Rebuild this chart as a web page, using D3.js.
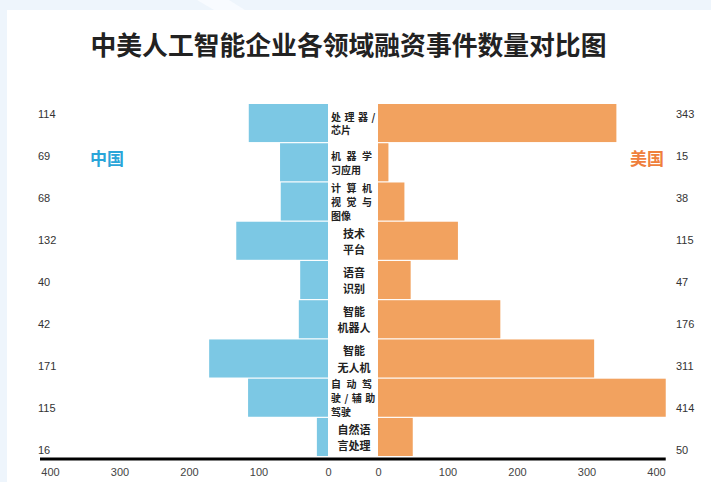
<!DOCTYPE html>
<html><head><meta charset="utf-8">
<script src="https://cdn.jsdelivr.net/npm/d3@7"></script>
<style>html,body{margin:0;padding:0;background:#eef5fc;}svg{display:block;}</style>
</head><body>
<svg id="chart" width="711" height="482"></svg>
<script>
const title = "中美人工智能企业各领域融资事件数量对比图";
const categories = ["处理器/芯片","机器学习应用","计算机视觉与图像","技术平台","语音识别","智能机器人","智能无人机","自动驾驶/辅助驾驶","自然语言处理"];
const categoryLines = [["处理器/","芯片"],["机器学","习应用"],["计算机","视觉与","图像"],["技术","平台"],["语音","识别"],["智能","机器人"],["智能","无人机"],["自动驾","驶/辅助","驾驶"],["自然语","言处理"]];
const chinaValues = [114,69,68,132,40,42,171,115,16];
const usValues = [343,15,38,115,47,176,311,414,50];
const seriesNames = ["中国","美国"];
const tickValues = [0,100,200,300,400];

const justified = new Set(["处理器/芯片","机器学习应用","计算机视觉与图像","自动驾驶/辅助驾驶"]);
const blue = "#7cc8e4", orange = "#f2a25f";
const font = "'Noto Sans CJK SC','Noto Sans',sans-serif";
const numFont = "'Liberation Sans',Arial,sans-serif";

const svg = d3.select("#chart");
svg.append("rect").attr("width",711).attr("height",482).attr("fill","#eef5fc");
svg.append("polygon").attr("points","197,0 229,0 245,10 214,10").attr("fill","#f8fbff");
svg.append("rect").attr("x",7).attr("y",10).attr("width",704).attr("height",472).attr("fill","#ffffff");

svg.append("text").attr("x",348.5).attr("y",43).attr("text-anchor","middle").attr("dominant-baseline","central")
  .attr("font-family",font).attr("font-size",25.8).attr("font-weight",700).attr("fill","#222").text(title);

const xL = d3.scaleLinear().domain([0,400]).range([328,50]);
const xR = d3.scaleLinear().domain([0,400]).range([378,656]);
const y = d3.scaleBand().domain(categories).range([104,456]).paddingInner(0.03);
const yLab = d3.scaleBand().domain(categories).range([93,471]);

const rows = categories.map((c,i)=>({c, lines:categoryLines[i], cn:chinaValues[i], us:usValues[i]}));

svg.append("g").selectAll("rect").data(rows).join("rect")
  .attr("x",d=>xL(d.cn)).attr("y",d=>y(d.c)).attr("width",d=>xL(0)-xL(d.cn)).attr("height",y.bandwidth())
  .attr("fill",blue);
svg.append("g").selectAll("rect").data(rows).join("rect")
  .attr("x",xR(0)).attr("y",d=>y(d.c)).attr("width",d=>xR(d.us)-xR(0)).attr("height",y.bandwidth())
  .attr("fill",orange);

// value labels
svg.append("g").selectAll("text").data(rows).join("text")
  .attr("x",38).attr("y",d=>yLab(d.c)+yLab.bandwidth()/2).attr("dominant-baseline","central")
  .attr("font-family",numFont).attr("font-size",11).attr("fill","#333").text(d=>d.cn);
svg.append("g").selectAll("text").data(rows).join("text")
  .attr("x",676).attr("y",d=>yLab(d.c)+yLab.bandwidth()/2).attr("dominant-baseline","central")
  .attr("font-family",numFont).attr("font-size",11).attr("fill","#333").text(d=>d.us);

// category labels
const cg = svg.append("g");
rows.forEach(d=>{
  const j = justified.has(d.c);
  const lh = j ? 13.8 : 16.5;
  const cy = y(d.c)+y.bandwidth()/2;
  const n = d.lines.length;
  d.lines.forEach((ln,i)=>{
    const t = cg.append("text")
      .attr("y",cy+(i-(n-1)/2)*lh).attr("dominant-baseline","central")
      .attr("font-family",font).attr("font-weight",700).attr("fill","#222").text(ln);
    if(j){
      t.attr("x",331).attr("font-size",10).attr("text-anchor","start")
       .attr("letter-spacing", i<n-1 ? (ln.includes("/")? 3.5:5.5) : 0);
    } else {
      t.attr("x",354).attr("font-size",11).attr("text-anchor","middle");
    }
  });
});

// series labels
svg.append("text").attr("x",90).attr("y",157).attr("dominant-baseline","central")
  .attr("font-family",font).attr("font-size",17).attr("font-weight",700).attr("fill","#2aa5d9").text(seriesNames[0]);
svg.append("text").attr("x",664).attr("y",157).attr("text-anchor","end").attr("dominant-baseline","central")
  .attr("font-family",font).attr("font-size",17).attr("font-weight",700).attr("fill","#ef7f3c").text(seriesNames[1]);

// axes
const axL = svg.append("g").attr("transform","translate(0,462)")
  .call(d3.axisBottom(xL).tickValues(tickValues).tickSize(0).tickPadding(6).tickFormat(d3.format("d")));
const axR = svg.append("g").attr("transform","translate(0,462)")
  .call(d3.axisBottom(xR).tickValues(tickValues).tickSize(0).tickPadding(6).tickFormat(d3.format("d")));
[axL,axR].forEach(a=>{
  a.select(".domain").remove();
  a.selectAll("text").attr("font-family",numFont).attr("font-size",11).attr("fill","#444");
});
svg.append("line").attr("x1",40).attr("x2",xR(414)).attr("y1",459).attr("y2",459)
  .attr("stroke","#000").attr("stroke-width",3);
</script>
</body></html>
